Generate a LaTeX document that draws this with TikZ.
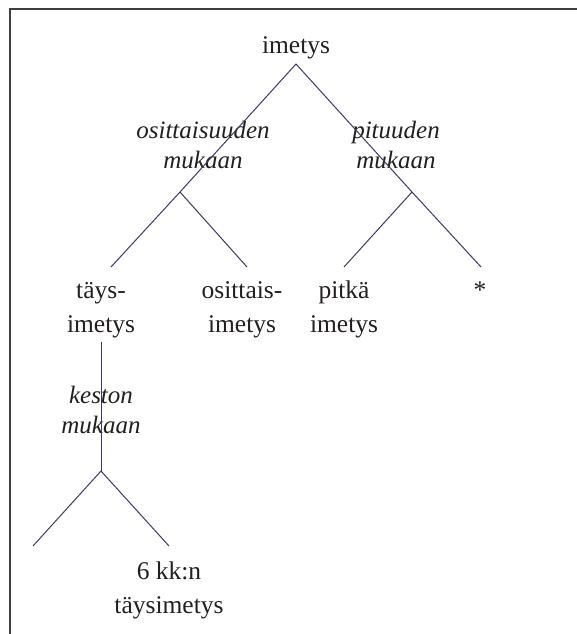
\documentclass[tikz,border=0pt]{standalone}
\usepackage{fontspec}
\setmainfont{Liberation Serif}
\definecolor{branchcol}{RGB}{58,58,98}
\definecolor{ink}{RGB}{35,31,32}
\tikzset{
  word/.style={text=ink, align=center, inner sep=0pt, anchor=base,
    font=\fontsize{25.5}{34}\selectfont},
  crit/.style={text=ink, align=center, inner sep=0pt, anchor=base,
    font=\fontsize{25}{30}\selectfont\itshape},
  branch/.style={draw=branchcol, line width=1pt}
}

\begin{document}
\begin{tikzpicture}[x=1pt, y=-1pt]
    \useasboundingbox (0,0) rectangle (576,634);
    \draw[line width=2pt, draw=black!75] (10,640) -- (10,9.3) -- (580,9.3);

    % multi-line nodes sit on the baseline of their last line
    \node[word] (imetys) at (296,53) {imetys};
    \node[crit] (osit) at (203,168) {osittaisuuden\\mukaan};
    \node[crit] (pit) at (396,168) {pituuden\\mukaan};
    \node[word] (tays) at (101,332) {täys-\\imetys};
    \node[word] (ositimetys) at (242,332) {osittais-\\imetys};
    \node[word] (pitka) at (344,332) {pitkä\\imetys};
    \node[word] (star) at (480,298) {*};
    \node[crit] (kest) at (101,433) {keston\\mukaan};
    \node[word] (kuusi) at (169,613) {6 kk:n\\täysimetys};

    \coordinate (top) at (296,64);
    \coordinate (jl) at (180,192);
    \coordinate (jr) at (412,192);
    \coordinate (e1) at (111,267);
    \coordinate (e2) at (247,267);
    \coordinate (e3) at (344,267);
    \coordinate (e4) at (481,267);
    \coordinate (v1) at (101,342);
    \coordinate (jk) at (101,471);
    \coordinate (e5) at (33,546);
    \coordinate (e6) at (169,546);

    \draw[branch] (e1) -- (jl) -- (top) -- (jr) -- (e4);
    \draw[branch] (jl) -- (e2);
    \draw[branch] (jr) -- (e3);
    \draw[branch] (v1) -- (jk);
    \draw[branch] (e5) -- (jk) -- (e6);
\end{tikzpicture}
\end{document}
